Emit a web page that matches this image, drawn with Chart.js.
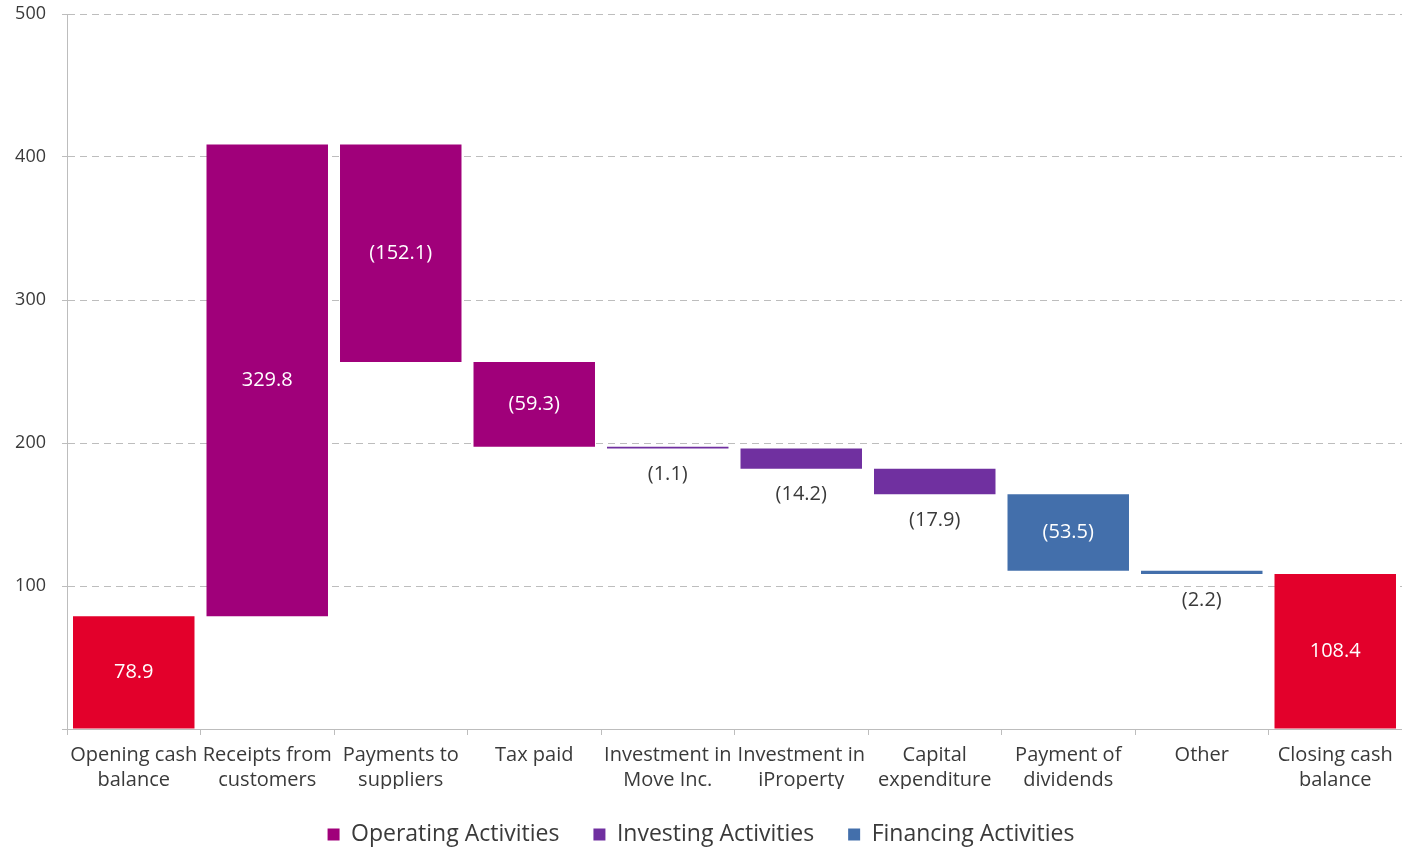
<!DOCTYPE html>
<html>
<head>
<meta charset="utf-8">
<script src="https://cdn.jsdelivr.net/npm/chart.js@4.4.1/dist/chart.umd.min.js"></script>
<style>
  html, body { margin: 0; padding: 0; background: #fff; }
  #wrap { width: 1402px; height: 849px; position: relative; }
</style>
</head>
<body>
<div id="wrap"><canvas id="cashChart"></canvas></div>
<script>
const categories = [
  ['Opening cash', 'balance'],
  ['Receipts from', 'customers'],
  ['Payments to', 'suppliers'],
  ['Tax paid'],
  ['Investment in', 'Move Inc.'],
  ['Investment in', 'iProperty'],
  ['Capital', 'expenditure'],
  ['Payment of', 'dividends'],
  ['Other'],
  ['Closing cash', 'balance']
];
const openingBalance = 78.9;
const cashMovements = [329.8, -152.1, -59.3, -1.1, -14.2, -17.9, -53.5, -2.2];
const closingBalance = 108.4;
const activityGroups = ['balance', 'operating', 'operating', 'operating', 'investing', 'investing', 'investing', 'financing', 'financing', 'balance'];
const yTicks = [0, 100, 200, 300, 400, 500];

const groupInfo = {
  balance:   { label: 'Balance', color: '#E3002B' },
  operating: { label: 'Operating Activities', color: '#A0007A' },
  investing: { label: 'Investing Activities', color: '#7030A0' },
  financing: { label: 'Financing Activities', color: '#436FAB' }
};

// floating [low, high] ranges for every step of the waterfall
const ranges = [];
const amounts = [];
ranges.push([0, openingBalance]);
amounts.push(openingBalance);
let running = openingBalance;
cashMovements.forEach(v => {
  const next = running + v;
  ranges.push([Math.min(running, next), Math.max(running, next)]);
  amounts.push(v);
  running = next;
});
ranges.push([0, closingBalance]);
amounts.push(closingBalance);

function fmt(v) {
  const s = Math.abs(v).toFixed(1);
  return v < 0 ? '(' + s + ')' : s;
}

const datasets = Object.keys(groupInfo).map(key => ({
  label: groupInfo[key].label,
  group: key,
  backgroundColor: groupInfo[key].color,
  data: ranges.map((r, i) => activityGroups[i] === key ? r : null),
  barPercentage: 0.91,
  categoryPercentage: 1.0,
  borderSkipped: false,
  borderWidth: 0
}));

const FONT = '"Open Sans", Lato, sans-serif';
const TEXT = '#3a3a3a';

// value labels: inside tall bars, under thin ones
const barLabels = {
  id: 'barLabels',
  afterDatasetsDraw(chart) {
    const ctx = chart.ctx;
    ctx.save();
    ctx.font = '20px ' + FONT;
    ctx.textAlign = 'center';
    ctx.textBaseline = 'middle';
    chart.data.datasets.forEach((ds, di) => {
      const meta = chart.getDatasetMeta(di);
      meta.data.forEach((bar, i) => {
        if (ds.data[i] == null) return;
        const top = Math.min(bar.y, bar.base);
        const bottom = Math.max(bar.y, bar.base);
        const text = fmt(amounts[i]);
        if (bottom - top > 40) {
          ctx.fillStyle = '#ffffff';
          ctx.fillText(text, bar.x, (top + bottom) / 2);
        } else {
          ctx.fillStyle = TEXT;
          ctx.fillText(text, bar.x, bottom + 26);
        }
      });
    });
    ctx.restore();
  }
};

new Chart(document.getElementById('cashChart'), {
  type: 'bar',
  data: { labels: categories, datasets: datasets },
  plugins: [barLabels],
  options: {
    responsive: true,
    maintainAspectRatio: false,
    animation: false,
    skipNull: true,
    layout: { padding: { top: 14, right: 0, left: 0, bottom: -7 } },
    plugins: {
      tooltip: { enabled: false },
      legend: {
        position: 'bottom',
        labels: {
          filter: item => item.text !== 'Balance',
          boxWidth: 12,
          boxHeight: 12,
          padding: 34,
          color: TEXT,
          font: { family: FONT, size: 23 }
        }
      }
    },
    scales: {
      x: {
        afterFit: scale => { scale.height = 60; },
        grid: {
          drawOnChartArea: false,
          tickLength: 6,
          color: '#bdbdbd'
        },
        border: { color: '#bdbdbd', width: 1 },
        ticks: {
          color: TEXT,
          padding: 8,
          maxRotation: 0,
          autoSkip: false,
          font: { family: FONT, size: 20, lineHeight: 1.25 }
        }
      },
      y: {
        min: yTicks[0],
        max: yTicks[yTicks.length - 1],
        afterFit: scale => {
          scale.width = 67;
          scale.paddingTop = 0;
        },
        afterBuildTicks: scale => { scale.ticks = yTicks.map(v => ({ value: v })); },
        grid: {
          color: c => c.tick && c.tick.value === 0 ? 'rgba(0,0,0,0)' : '#bdbdbd',
          tickColor: '#bdbdbd',
          tickLength: 5,
          tickBorderDash: [],
          lineWidth: 1
        },
        border: { color: '#bdbdbd', width: 1, dash: [7, 5] },
        ticks: {
          color: TEXT,
          padding: 16,
          font: { family: FONT, size: 18 },
          callback: v => v === 0 ? '' : v
        }
      }
    }
  }
});
</script>
</body>
</html>
